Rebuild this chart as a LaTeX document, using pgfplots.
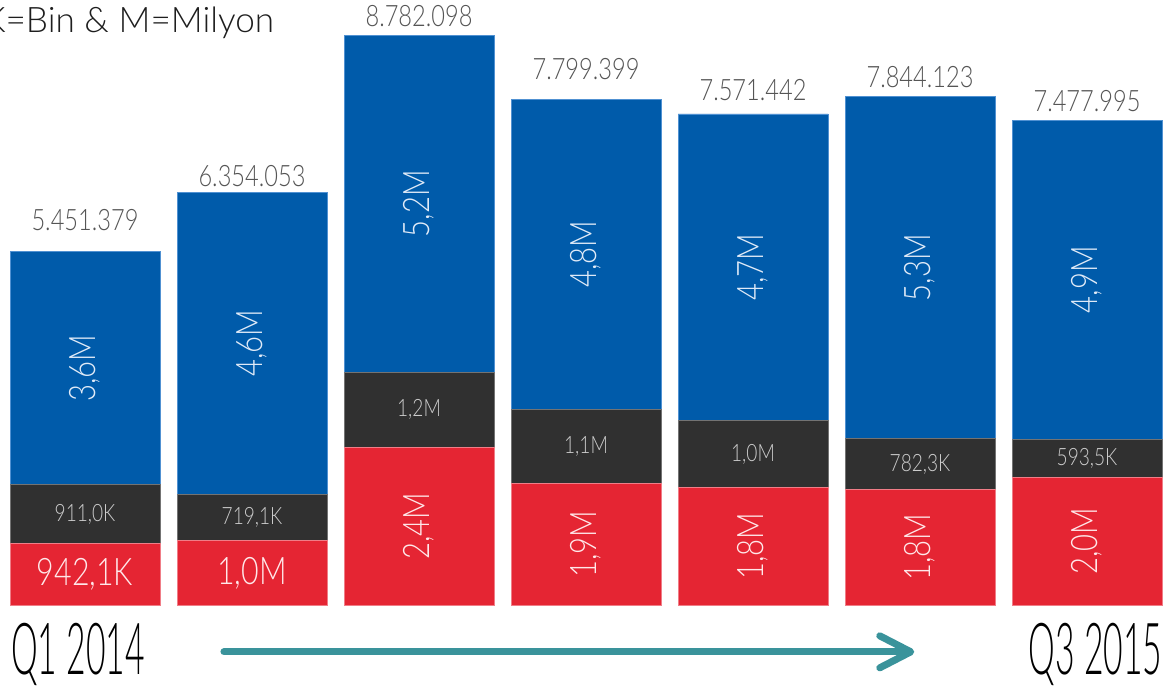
\documentclass[border=0pt]{standalone}
\usepackage{pgfplots}
\pgfplotsset{compat=1.18}
\usepackage{pgfplotstable}
\usepackage{fontspec}
\setmainfont{Lato Light}
\newfontfamily\lbl{Lato Light}[FakeStretch=0.8]
\newfontfamily\qfont{Lato Light}[FakeStretch=0.47]

\definecolor{cblue}{RGB}{0,91,170}
\definecolor{cblueedge}{RGB}{80,145,210}
\definecolor{cdark}{RGB}{48,48,48}
\definecolor{cdarkedge}{RGB}{115,115,115}
\definecolor{cred}{RGB}{229,37,51}
\definecolor{crededge}{RGB}{240,125,135}
\definecolor{cteal}{RGB}{58,147,155}
\definecolor{ctot}{RGB}{85,85,85}

% millions per quarter: red (bottom), black (middle), blue (top)
\pgfplotstableread{
x red   black blue
0 0.942 0.911 3.598
1 0.990 0.719 4.645
2 2.430 1.160 5.192
3 1.880 1.130 4.789
4 1.810 1.030 4.731
5 1.780 0.782 5.282
6 1.960 0.594 4.924
}\bars

\pgfplotstableread{
x y     lab
0 5.767 5.451.379
1 6.453 6.354.053
2 8.913 8.782.098
3 8.107 7.799.399
4 7.786 7.571.442
5 7.987 7.844.123
6 7.602 7.477.995
}\totals

\pgfplotstableread{
x y      lab
0 3.652  3,6M
1 4.032  4,6M
2 6.186  5,2M
3 5.405  4,8M
4 5.206  4,7M
5 5.203  5,3M
6 5.016  4,9M
}\bluelab

\pgfplotstableread{
x y      lab
0 1.398  911,0K
1 1.350  719,1K
2 3.010  1,2M
3 2.445  1,1M
4 2.325  1,0M
5 2.171  782,3K
6 2.257  593,5K
}\blacklab

\pgfplotstableread{
x y     lab
0 0.471 942,1K
1 0.495 1,0M
}\redlabh

\pgfplotstableread{
x y     lab
2 1.215 2,4M
3 0.940 1,9M
4 0.905 1,8M
5 0.890 1,8M
6 0.980 2,0M
}\redlabv

\pgfplotsset{myax/.style={scale only axis, width=29.075cm, height=17.15cm,
    xmin=-0.509, xmax=6.455, ymin=-1.249, ymax=9.329, hide axis, clip=false}}

\begin{document}
\begin{tikzpicture}
\begin{axis}[myax, ybar stacked, bar width=0.898]
  \addplot[fill=cred, draw=crededge, line width=0.6pt] table[x=x, y=red] {\bars};
  \addplot[fill=cdark, draw=cdarkedge, line width=0.6pt] table[x=x, y=black] {\bars};
  \addplot[fill=cblue, draw=cblueedge, line width=0.6pt] table[x=x, y=blue] {\bars};
\end{axis}
\begin{axis}[myax, point meta=explicit symbolic, nodes near coords,
    nodes near coords align={center}]
  \addplot[draw=none, every node near coord/.append style={anchor=base, inner sep=0pt,
      text=ctot, font=\lbl\fontsize{21}{24}\selectfont}]
      table[x=x, y=y, meta=lab] {\totals};
  \addplot[draw=none, every node near coord/.append style={anchor=center, rotate=90,
      text={rgb,255:red,225;green,235;blue,248}, font=\lbl\fontsize{26}{30}\selectfont}]
      table[x=x, y=y, meta=lab] {\bluelab};
  \addplot[draw=none, every node near coord/.append style={anchor=center,
      text={rgb,255:red,205;green,205;blue,205}, font=\lbl\fontsize{17}{20}\selectfont}]
      table[x=x, y=y, meta=lab] {\blacklab};
  \addplot[draw=none, every node near coord/.append style={anchor=center,
      text={rgb,255:red,255;green,232;blue,234}, font=\lbl\fontsize{27}{30}\selectfont}]
      table[x=x, y=y, meta=lab] {\redlabh};
  \addplot[draw=none, every node near coord/.append style={anchor=center, rotate=90,
      text={rgb,255:red,255;green,232;blue,234}, font=\lbl\fontsize{26}{30}\selectfont}]
      table[x=x, y=y, meta=lab] {\redlabv};
\end{axis}
\begin{scope}[shift={(0,17.15cm)}, x=0.025cm, y=-0.025cm]
  \node[anchor=base west, inner sep=0pt, text={rgb,255:red,30;green,30;blue,30},
      font=\fontsize{25}{30}\selectfont] at (-17,33) {K=Bin \& M=Milyon};
  \node[anchor=base west, inner sep=0pt, text=black, font=\qfont\fontsize{51}{60}\selectfont]
      at (11,675) {Q1 2014};
  \node[anchor=base east, inner sep=0pt, text=black, font=\qfont\fontsize{51}{60}\selectfont]
      at (1163,675) {Q3 2015};
  \draw[cteal, line width=5pt, line cap=round, line join=round] (224,652) -- (910,652);
  \draw[cteal, line width=5pt, line cap=round, line join=round] (880,636) -- (911,652) -- (880,668);
\end{scope}
\pgfresetboundingbox
\useasboundingbox (0,0) rectangle (29.075cm,17.15cm);
\end{tikzpicture}
\end{document}
